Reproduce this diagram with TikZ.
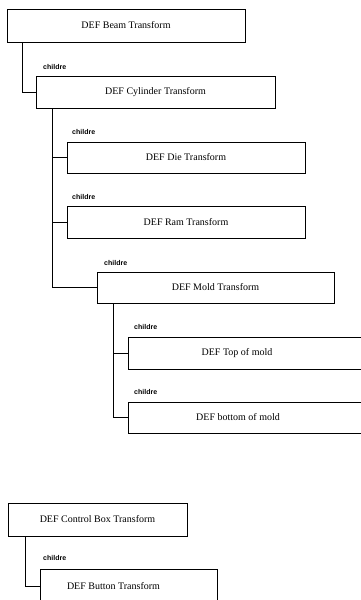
\documentclass[tikz,border=0pt]{standalone}
\usepackage{fontspec}
\setmainfont{Liberation Serif}
\newfontfamily\lblfont{Liberation Sans}
\begin{document}
\begin{tikzpicture}[x=1pt,y=-1pt,
  tbox/.style={draw, line width=0.7pt, rectangle, inner sep=0pt, font=\fontsize{10}{12}\selectfont},
  every label/.style={font=\fontsize{10}{12}\selectfont, inner sep=0pt},
  lbl/.style={anchor=west, inner sep=0pt, font=\lblfont\bfseries\fontsize{7}{8}\selectfont},
  conn/.style={line width=0.7pt}]
\useasboundingbox (0,0) rectangle (361,600);
\clip (0,0) rectangle (361,600);

% boxes
\node[tbox, minimum width=238pt, minimum height=33pt] (beam) at (126,25.5) {DEF Beam Transform};
\node[tbox, minimum width=239pt, minimum height=32pt] (cyl) at (155.5,92) {DEF Cylinder Transform};
\node[tbox, minimum width=238pt, minimum height=31pt] (die) at (186,157.5) {DEF Die Transform};
\node[tbox, minimum width=238pt, minimum height=32pt] (ram) at (186,222) {DEF Ram Transform};
\node[tbox, minimum width=237pt, minimum height=31pt] (mold) at (215.5,287.5) {DEF Mold Transform};
\node[tbox, minimum width=240pt, minimum height=32pt, label={[xshift=-11pt]center:DEF Top of mold}] (top) at (248,353) {};
\node[tbox, minimum width=240pt, minimum height=31pt, label={[xshift=-10pt]center:DEF bottom of mold}] (bot) at (248,417.5) {};
\node[tbox, minimum width=179pt, minimum height=33pt] (ctrl) at (97.5,519.5) {DEF Control Box Transform};
\node[tbox, minimum width=177pt, minimum height=33pt, label={[xshift=-15pt]center:DEF Button Transform}] (btn) at (128.5,586) {};

% connector x positions
\coordinate (xa) at (22,0);
\coordinate (xb) at (52,0);
\coordinate (xc) at (113,0);
\coordinate (xd) at (25,0);

\draw[conn] (beam.south -| xa) |- (cyl.west);
\draw[conn] (cyl.south -| xb) |- (die.west);
\draw[conn] (cyl.south -| xb) |- (ram.west);
\draw[conn] (cyl.south -| xb) |- (mold.west);
\draw[conn] (mold.south -| xc) |- (top.west);
\draw[conn] (mold.south -| xc) |- (bot.west);
\draw[conn] (ctrl.south -| xd) |- (btn.west);

% labels
\node[lbl] (l1) at (43,67) {childre};
\node[lbl] (l2) at (72,132) {childre};
\node[lbl] (l3) at (72,197) {childre};
\node[lbl] (l4) at (104,263) {childre};
\node[lbl] (l5) at (134,327) {childre};
\node[lbl] (l6) at (134,392) {childre};
\node[lbl] (l7) at (43,558) {childre};
\end{tikzpicture}
\end{document}
